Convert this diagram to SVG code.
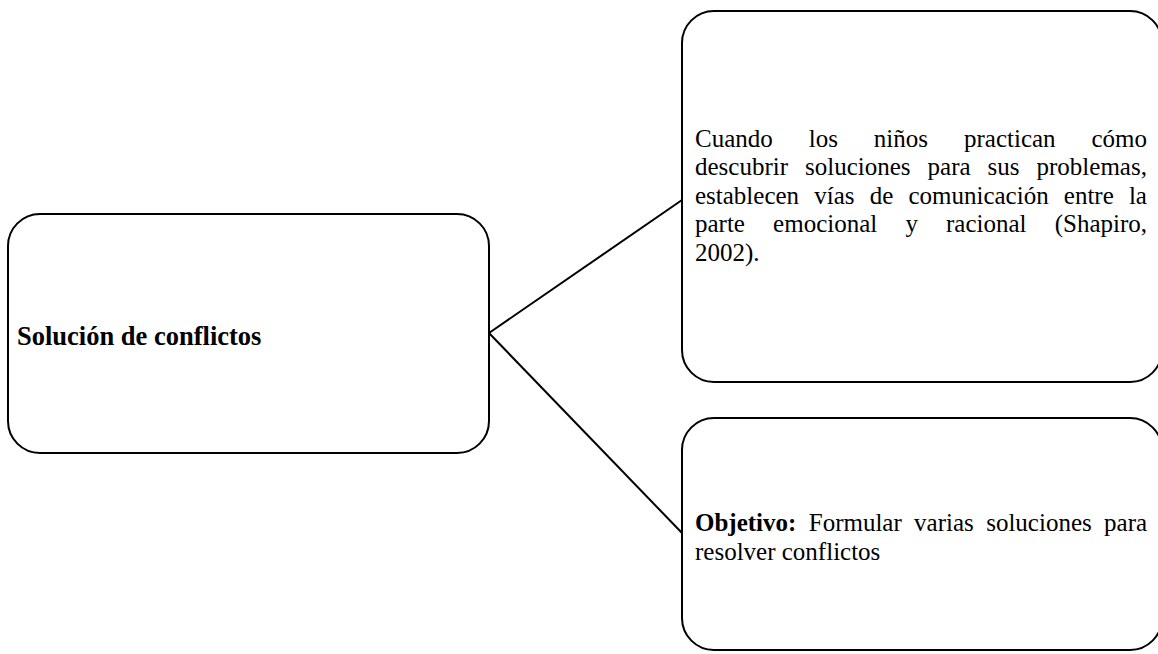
<svg xmlns="http://www.w3.org/2000/svg" width="1158" height="654" viewBox="0 0 1158 654">
  <style>
    .box { fill: #ffffff; stroke: #000000; stroke-width: 2; }
    .link { fill: none; stroke: #000000; stroke-width: 2; }
    .txt { font-family: "Liberation Serif", "Times New Roman", serif; font-size: 25px; fill: #000000; }
    .title { font-family: "Liberation Serif", "Times New Roman", serif; font-size: 26.5px; font-weight: bold; fill: #000000; }
    .b { font-weight: bold; }
  </style>
  <rect width="1158" height="654" fill="#ffffff"/>

  <!-- connectors -->
  <g id="connectors">
    <line class="link" x1="489" y1="333" x2="682" y2="200"/>
    <line class="link" x1="489" y1="333" x2="682" y2="533"/>
  </g>

  <!-- main topic -->
  <g id="node-solucion">
    <rect class="box" x="8" y="214" width="481" height="239" rx="32" ry="32"/>
    <text class="title" x="17" y="345">Solución de conflictos</text>
  </g>

  <!-- description -->
  <g id="node-descripcion">
    <rect class="box" x="682" y="11" width="480" height="371" rx="32" ry="32"/>
    <text class="txt" x="695" y="147" word-spacing="29.7">Cuando los niños practican cómo</text>
    <text class="txt" x="695" y="175" word-spacing="10.75">descubrir soluciones para sus problemas,</text>
    <text class="txt" x="695" y="204" word-spacing="8.9">establecen vías de comunicación entre la</text>
    <text class="txt" x="695" y="232" word-spacing="21.9">parte emocional y racional (Shapiro,</text>
    <text class="txt" x="695" y="261">2002).</text>
  </g>

  <!-- objective -->
  <g id="node-objetivo">
    <rect class="box" x="682" y="418" width="480" height="232" rx="32" ry="32"/>
    <text class="txt" x="695" y="531" word-spacing="6.1"><tspan class="b">Objetivo:</tspan> Formular varias soluciones para</text>
    <text class="txt" x="695" y="560">resolver conflictos</text>
  </g>
</svg>
